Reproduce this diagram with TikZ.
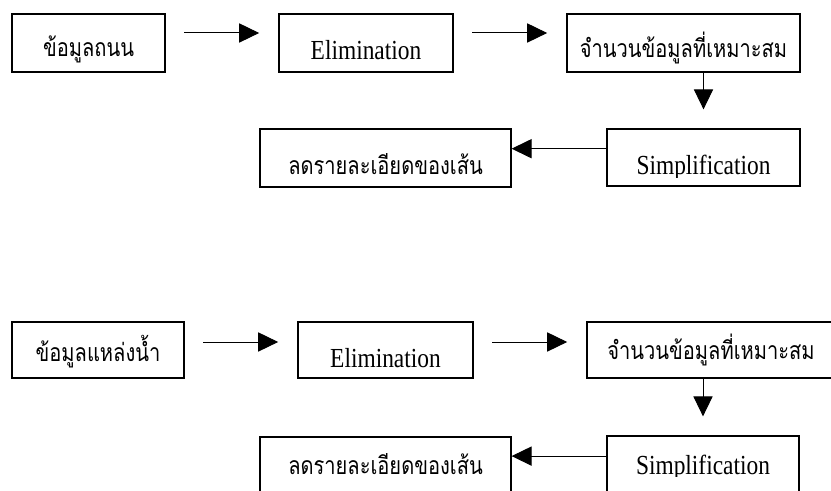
\documentclass[tikz,border=0pt]{standalone}
\usepackage{fontspec}
\setmainfont[FakeStretch=0.85]{Liberation Serif}
\newfontfamily\thaifont[Script=Thai,Scale=0.9,FakeStretch=0.81]{Loma}
\usetikzlibrary{arrows.meta,calc}

\tikzset{
  box/.style={draw, line width=0.9pt, inner sep=0pt, minimum height=1.45cm},
  drop/.style={text height=#1, text depth=0pt},
  flow/.style={-{Triangle[length=0.5cm,width=0.48cm]}, line width=0.7pt},
  gap/.style={shorten <=0.46cm, shorten >=0.48cm},
}

\begin{document}
\begin{tikzpicture}[x=1cm,y=1cm,font=\fontsize{19.6}{23}\selectfont]
\useasboundingbox (0,0) rectangle (20.775,12.275);

% roads
\node[box, minimum width=3.825cm, drop=0.7cm] (road) at (2.2125,11.2) {\thaifont ข้อมูลถนน};
\node[box, minimum width=4.35cm, drop=0.85cm] (elim) at (9.15,11.2) {Elimination};
\node[box, minimum width=5.825cm, drop=0.75cm] (fit) at (17.0875,11.2) {\thaifont จำนวนข้อมูลที่เหมาะสม};
\node[box, minimum width=4.825cm, minimum height=1.425cm] (simp) at (17.5875,8.3375) {};
\node[box, minimum width=6.275cm, drop=0.85cm] (red) at (9.6375,8.325) {\thaifont ลดรายละเอียดของเส้น};
\begin{scope}
  \clip (simp.north west) rectangle (simp.east |- 0,7.825);
  \node[anchor=base] (simptxt) at (simp.center |- 0,7.9) {Simplification};
\end{scope}

\draw[flow, gap] ([yshift=0.25cm]road.east) -- ([yshift=0.25cm]elim.west);
\draw[flow, gap] ([yshift=0.25cm]elim.east) -- ([yshift=0.25cm]fit.west);
\draw[flow, shorten >=0.475cm] (fit.south -| simp.north) -- (simp.north);
\coordinate (s1) at ([yshift=0.22cm]simp.west);
\draw[flow] (s1) -- (s1 -| red.east);

% water
\node[box, minimum width=4.3cm, minimum height=1.4cm, drop=0.6cm] (water) at (2.45,3.525) {\thaifont ข้อมูลแหล่งน้ำ};
\node[box, minimum width=4.375cm, minimum height=1.4cm, drop=0.9cm] (elim2) at (9.6375,3.525) {Elimination};
\node[box, minimum width=6.2cm, minimum height=1.4cm, drop=0.5cm] (fit2) at (17.775,3.525) {\thaifont จำนวนข้อมูลที่เหมาะสม};
\node[box, minimum width=4.8cm, minimum height=1.425cm] (simp2) at (17.575,0.6625) {};
\node[box, minimum width=6.275cm, drop=0.45cm] (red2) at (9.6375,0.625) {\thaifont ลดรายละเอียดของเส้น};
\begin{scope}
  \clip (simp2.north west) rectangle (simp2.east |- 0,0.35);
  \node[anchor=base] (simptxt2) at (simp2.center |- 0,0.4) {Simplification};
\end{scope}

\draw[flow, gap] ([yshift=0.2cm]water.east) -- ([yshift=0.2cm]elim2.west);
\draw[flow, gap] ([yshift=0.2cm]elim2.east) -- ([yshift=0.2cm]fit2.west);
\draw[flow, shorten >=0.475cm] (fit2.south -| simp2.north) -- (simp2.north);
\coordinate (s2) at ([yshift=0.21cm]simp2.west);
\draw[flow] (s2) -- (s2 -| red2.east);
\end{tikzpicture}
\end{document}
